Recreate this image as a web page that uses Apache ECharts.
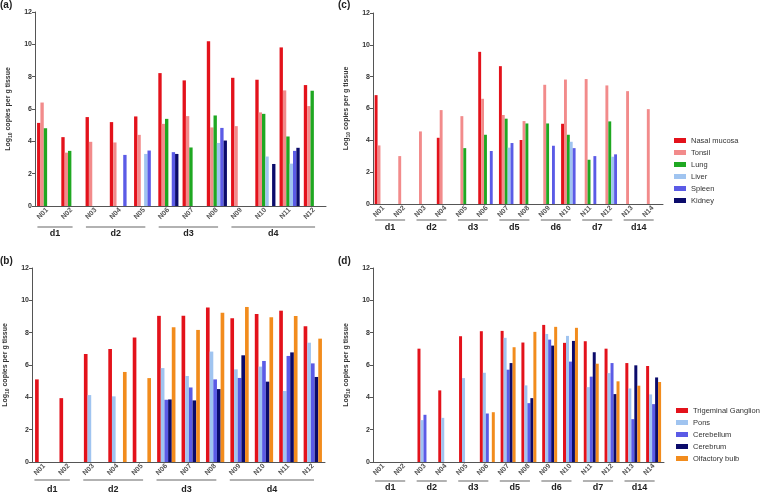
<!DOCTYPE html>
<html>
<head>
<meta charset="utf-8">
<script src="https://cdn.jsdelivr.net/npm/echarts@6/dist/echarts.min.js"></script>
<style>
    html, body { margin: 0; padding: 0; background: #fff; }
    #chart { width: 760px; height: 493px; }
</style>
</head>
<body>
<div id="chart"></div>
<script>
    // 样本编号
    var samples12 = ['N01', 'N02', 'N03', 'N04', 'N05', 'N06', 'N07', 'N08', 'N09', 'N10', 'N11', 'N12'];
    var samples14 = ['N01', 'N02', 'N03', 'N04', 'N05', 'N06', 'N07', 'N08', 'N09', 'N10', 'N11', 'N12', 'N13', 'N14'];

    // 分组 (天数) 和对应的样本范围
    var daysAB = ['d1', 'd2', 'd3', 'd4'];
    var spansAB = [[0, 1], [2, 4], [5, 7], [8, 11]];
    var daysCD = ['d1', 'd2', 'd3', 'd5', 'd6', 'd7', 'd14'];
    var spansCD = [[0, 1], [2, 3], [4, 5], [6, 7], [8, 9], [10, 11], [12, 13]];

    var tissueNames = ['Nasal mucosa', 'Tonsil', 'Lung', 'Liver', 'Spleen', 'Kidney'];
    var brainNames = ['Trigeminal Ganglion', 'Pons', 'Cerebellum', 'Cerebrum', 'Olfactory bulb'];

    // (a)
    var nasalA  = [5.14, 4.26, 5.5, 5.19, 5.54, 8.22, 7.77, 10.19, 7.93, 7.81, 9.81, 7.48];
    var tonsilA = [6.4, 3.3, 3.97, 3.93, 4.4, 5.08, 5.56, 4.86, 4.94, 5.79, 7.15, 6.18];
    var lungA   = [4.81, 3.41, 0, 0, 0, 5.39, 3.62, 5.6, 0, 5.7, 4.3, 7.13];
    var liverA  = [0, 0, 0, 0, 3.22, 0, 0, 3.9, 0, 3.06, 2.62, 0];
    var spleenA = [0, 0, 0, 3.16, 3.43, 3.33, 0, 4.83, 0, 0, 3.41, 0];
    var kidneyA = [0, 0, 0, 0, 0, 3.22, 0, 4.05, 0, 2.6, 3.6, 0];

    // (b)
    var tgB          = [5.11, 3.95, 6.68, 6.99, 7.7, 9.04, 9.04, 9.56, 8.89, 9.15, 9.36, 8.39];
    var ponsB        = [0, 0, 4.14, 4.06, 0, 5.81, 5.32, 6.83, 5.73, 5.9, 4.39, 7.38];
    var cerebellumB  = [0, 0, 0, 0, 0, 3.85, 4.61, 5.11, 5.2, 6.25, 6.56, 6.1];
    var cerebrumB    = [0, 0, 0, 0, 0, 3.87, 3.81, 4.51, 6.6, 4.97, 6.78, 5.26];
    var olfactoryB   = [0, 0, 0, 5.57, 5.19, 8.34, 8.17, 9.23, 9.59, 8.95, 9.03, 7.63];

    // (c)
    var nasalC  = [6.84, 0, 0, 4.16, 0, 9.56, 8.66, 4.02, 0, 5.04, 0, 0, 0, 0];
    var tonsilC = [3.68, 3.01, 4.56, 5.9, 5.52, 6.61, 5.59, 5.21, 7.49, 7.82, 7.85, 7.45, 7.09, 5.96];
    var lungC   = [0, 0, 0, 0, 3.51, 4.35, 5.36, 5.06, 5.06, 4.35, 2.78, 5.19, 0, 0];
    var liverC  = [0, 0, 0, 0, 0, 0, 3.54, 0, 0, 3.91, 0, 2.97, 0, 0];
    var spleenC = [0, 0, 0, 0, 0, 3.33, 3.83, 0, 3.66, 3.51, 3.01, 3.12, 0, 0];
    var kidneyC = [0, 0, 0, 0, 0, 0, 0, 0, 0, 0, 0, 0, 0, 0];

    // (d)
    var tgD         = [0, 0, 7.01, 4.43, 7.78, 8.09, 8.11, 7.39, 8.48, 7.37, 7.47, 7.01, 6.12, 5.94];
    var ponsD       = [0, 0, 2.59, 2.73, 5.19, 5.52, 7.68, 4.74, 7.92, 7.8, 4.63, 5.5, 4.55, 4.18];
    var cerebellumD = [0, 0, 2.92, 0, 0, 3.0, 5.71, 3.64, 7.57, 6.21, 5.28, 6.12, 2.65, 3.58];
    var cerebrumD   = [0, 0, 0, 0, 0, 0, 6.12, 3.95, 7.2, 7.49, 6.79, 4.2, 5.98, 5.23];
    var olfactoryD  = [0, 0, 0, 0, 0, 3.08, 7.1, 8.05, 8.36, 8.3, 6.08, 4.99, 4.72, 4.95];

    var yTicks = [0, 12, 2]; // min, max, interval

    var tissueColors = ['#e3121b', '#f28b8b', '#1fa822', '#a0c4f0', '#5b5be6', '#0b0b6b'];
    var brainColors = ['#e3121b', '#a0c4f0', '#5b5be6', '#0b0b6b', '#f28c1d'];

    var FONT = '"Liberation Sans", Arial, sans-serif';
    var chart = echarts.init(document.getElementById('chart'));

    function makeX(gi, data) {
        return {
            gridIndex: gi,
            type: 'category',
            data: data,
            axisLine: { lineStyle: { color: '#555', width: 1 } },
            axisTick: { alignWithLabel: true, length: 3, lineStyle: { color: '#555' } },
            axisLabel: {
                interval: 0, rotate: 45, fontSize: 7, fontWeight: 'bold',
                color: '#555', margin: 3, fontFamily: FONT
            }
        };
    }

    function makeY(gi) {
        return {
            gridIndex: gi,
            type: 'value',
            min: yTicks[0], max: yTicks[1], interval: yTicks[2],
            axisLine: { show: true, lineStyle: { color: '#555', width: 1 } },
            axisTick: { show: true, length: 3, lineStyle: { color: '#555' } },
            axisLabel: { fontSize: 7, fontWeight: 'bold', color: '#333', margin: 3, fontFamily: FONT },
            splitLine: { show: false },
            name: '{a|Log}{s|10}{a| copies per g tissue}',
            nameLocation: 'middle',
            nameRotate: 90,
            nameGap: 22,
            nameTextStyle: {
                rich: {
                    a: { fontSize: 7, fontWeight: 'bold', color: '#333', fontFamily: FONT },
                    s: { fontSize: 5, fontWeight: 'bold', color: '#333', fontFamily: FONT, padding: [4, 0, 0, 0] }
                }
            }
        };
    }

    function bar(name, color, data, gi, gap) {
        return {
            name: name,
            type: 'bar',
            xAxisIndex: gi,
            yAxisIndex: gi,
            data: data,
            barGap: '0%',
            barCategoryGap: gap,
            itemStyle: { color: color },
            animation: false
        };
    }

    var seriesA = [nasalA, tonsilA, lungA, liverA, spleenA, kidneyA];
    var seriesB = [tgB, ponsB, cerebellumB, cerebrumB, olfactoryB];
    var seriesC = [nasalC, tonsilC, lungC, liverC, spleenC, kidneyC];
    var seriesD = [tgD, ponsD, cerebellumD, cerebrumD, olfactoryD];

    var series = [];
    seriesA.forEach(function (d, i) { series.push(bar(tissueNames[i], tissueColors[i], d, 0, '17%')); });
    seriesB.forEach(function (d, i) { series.push(bar(brainNames[i], brainColors[i], d, 1, '25%')); });
    seriesC.forEach(function (d, i) { series.push(bar(tissueNames[i], tissueColors[i], d, 2, '16%')); });
    seriesD.forEach(function (d, i) { series.push(bar(brainNames[i], brainColors[i], d, 3, '28%')); });

    var titleStyle = { fontSize: 10, fontWeight: 'bold', color: '#222', fontFamily: FONT };
    var legendBase = {
        orient: 'vertical',
        icon: 'rect',
        itemWidth: 12,
        itemHeight: 5,
        itemGap: 3,
        selectedMode: false,
        padding: 0,
        textStyle: { fontSize: 7.5, lineHeight: 9, color: '#333', fontFamily: FONT }
    };

    var option = {
        animation: false,
        textStyle: { fontFamily: FONT },
        title: [
            { text: '(a)', left: 0, top: 0, textStyle: titleStyle, padding: 0 },
            { text: '(b)', left: 0, top: 256, textStyle: titleStyle, padding: 0 },
            { text: '(c)', left: 338, top: 0, textStyle: titleStyle, padding: 0 },
            { text: '(d)', left: 338, top: 256, textStyle: titleStyle, padding: 0 }
        ],
        legend: [
            Object.assign({ data: tissueNames, left: 674, top: 136 }, legendBase),
            Object.assign({ data: brainNames, left: 676, top: 406 }, legendBase)
        ],
        grid: [
            { left: 35, top: 12, width: 291, height: 194 },
            { left: 32, top: 268, width: 293, height: 194 },
            { left: 373, top: 13, width: 290, height: 191 },
            { left: 373, top: 268, width: 291, height: 194 }
        ],
        xAxis: [makeX(0, samples12), makeX(1, samples12), makeX(2, samples14), makeX(3, samples14)],
        yAxis: [makeY(0), makeY(1), makeY(2), makeY(3)],
        series: series
    };
    chart.setOption(option);

    // 分组下划线和天数标签, 位置从坐标轴换算
    function groupGraphics(gi, cats, days, spans, lineOff, textOff) {
        var els = [];
        var y0 = chart.convertToPixel({ yAxisIndex: gi }, 0);
        var w = chart.convertToPixel({ xAxisIndex: gi }, cats[1]) - chart.convertToPixel({ xAxisIndex: gi }, cats[0]);
        for (var i = 0; i < days.length; i++) {
            var c1 = chart.convertToPixel({ xAxisIndex: gi }, cats[spans[i][0]]);
            var c2 = chart.convertToPixel({ xAxisIndex: gi }, cats[spans[i][1]]);
            var x1 = c1 - 0.4 * w, x2 = c2 + 0.05 * w;
            els.push({
                type: 'line',
                shape: { x1: x1, y1: y0 + lineOff, x2: x2, y2: y0 + lineOff },
                style: { stroke: '#999', lineWidth: 1.5 }
            });
            els.push({
                type: 'text',
                x: (x1 + x2) / 2,
                y: y0 + textOff,
                style: {
                    text: days[i], fill: '#222', font: 'bold 9px ' + FONT,
                    align: 'center', verticalAlign: 'middle'
                }
            });
        }
        return els;
    }

    var graphics = []
        .concat(groupGraphics(0, samples12, daysAB, spansAB, 21, 28))
        .concat(groupGraphics(1, samples12, daysAB, spansAB, 18, 28))
        .concat(groupGraphics(2, samples14, daysCD, spansCD, 16, 24))
        .concat(groupGraphics(3, samples14, daysCD, spansCD, 19, 26));
    chart.setOption({ graphic: graphics });
</script>
</body>
</html>
